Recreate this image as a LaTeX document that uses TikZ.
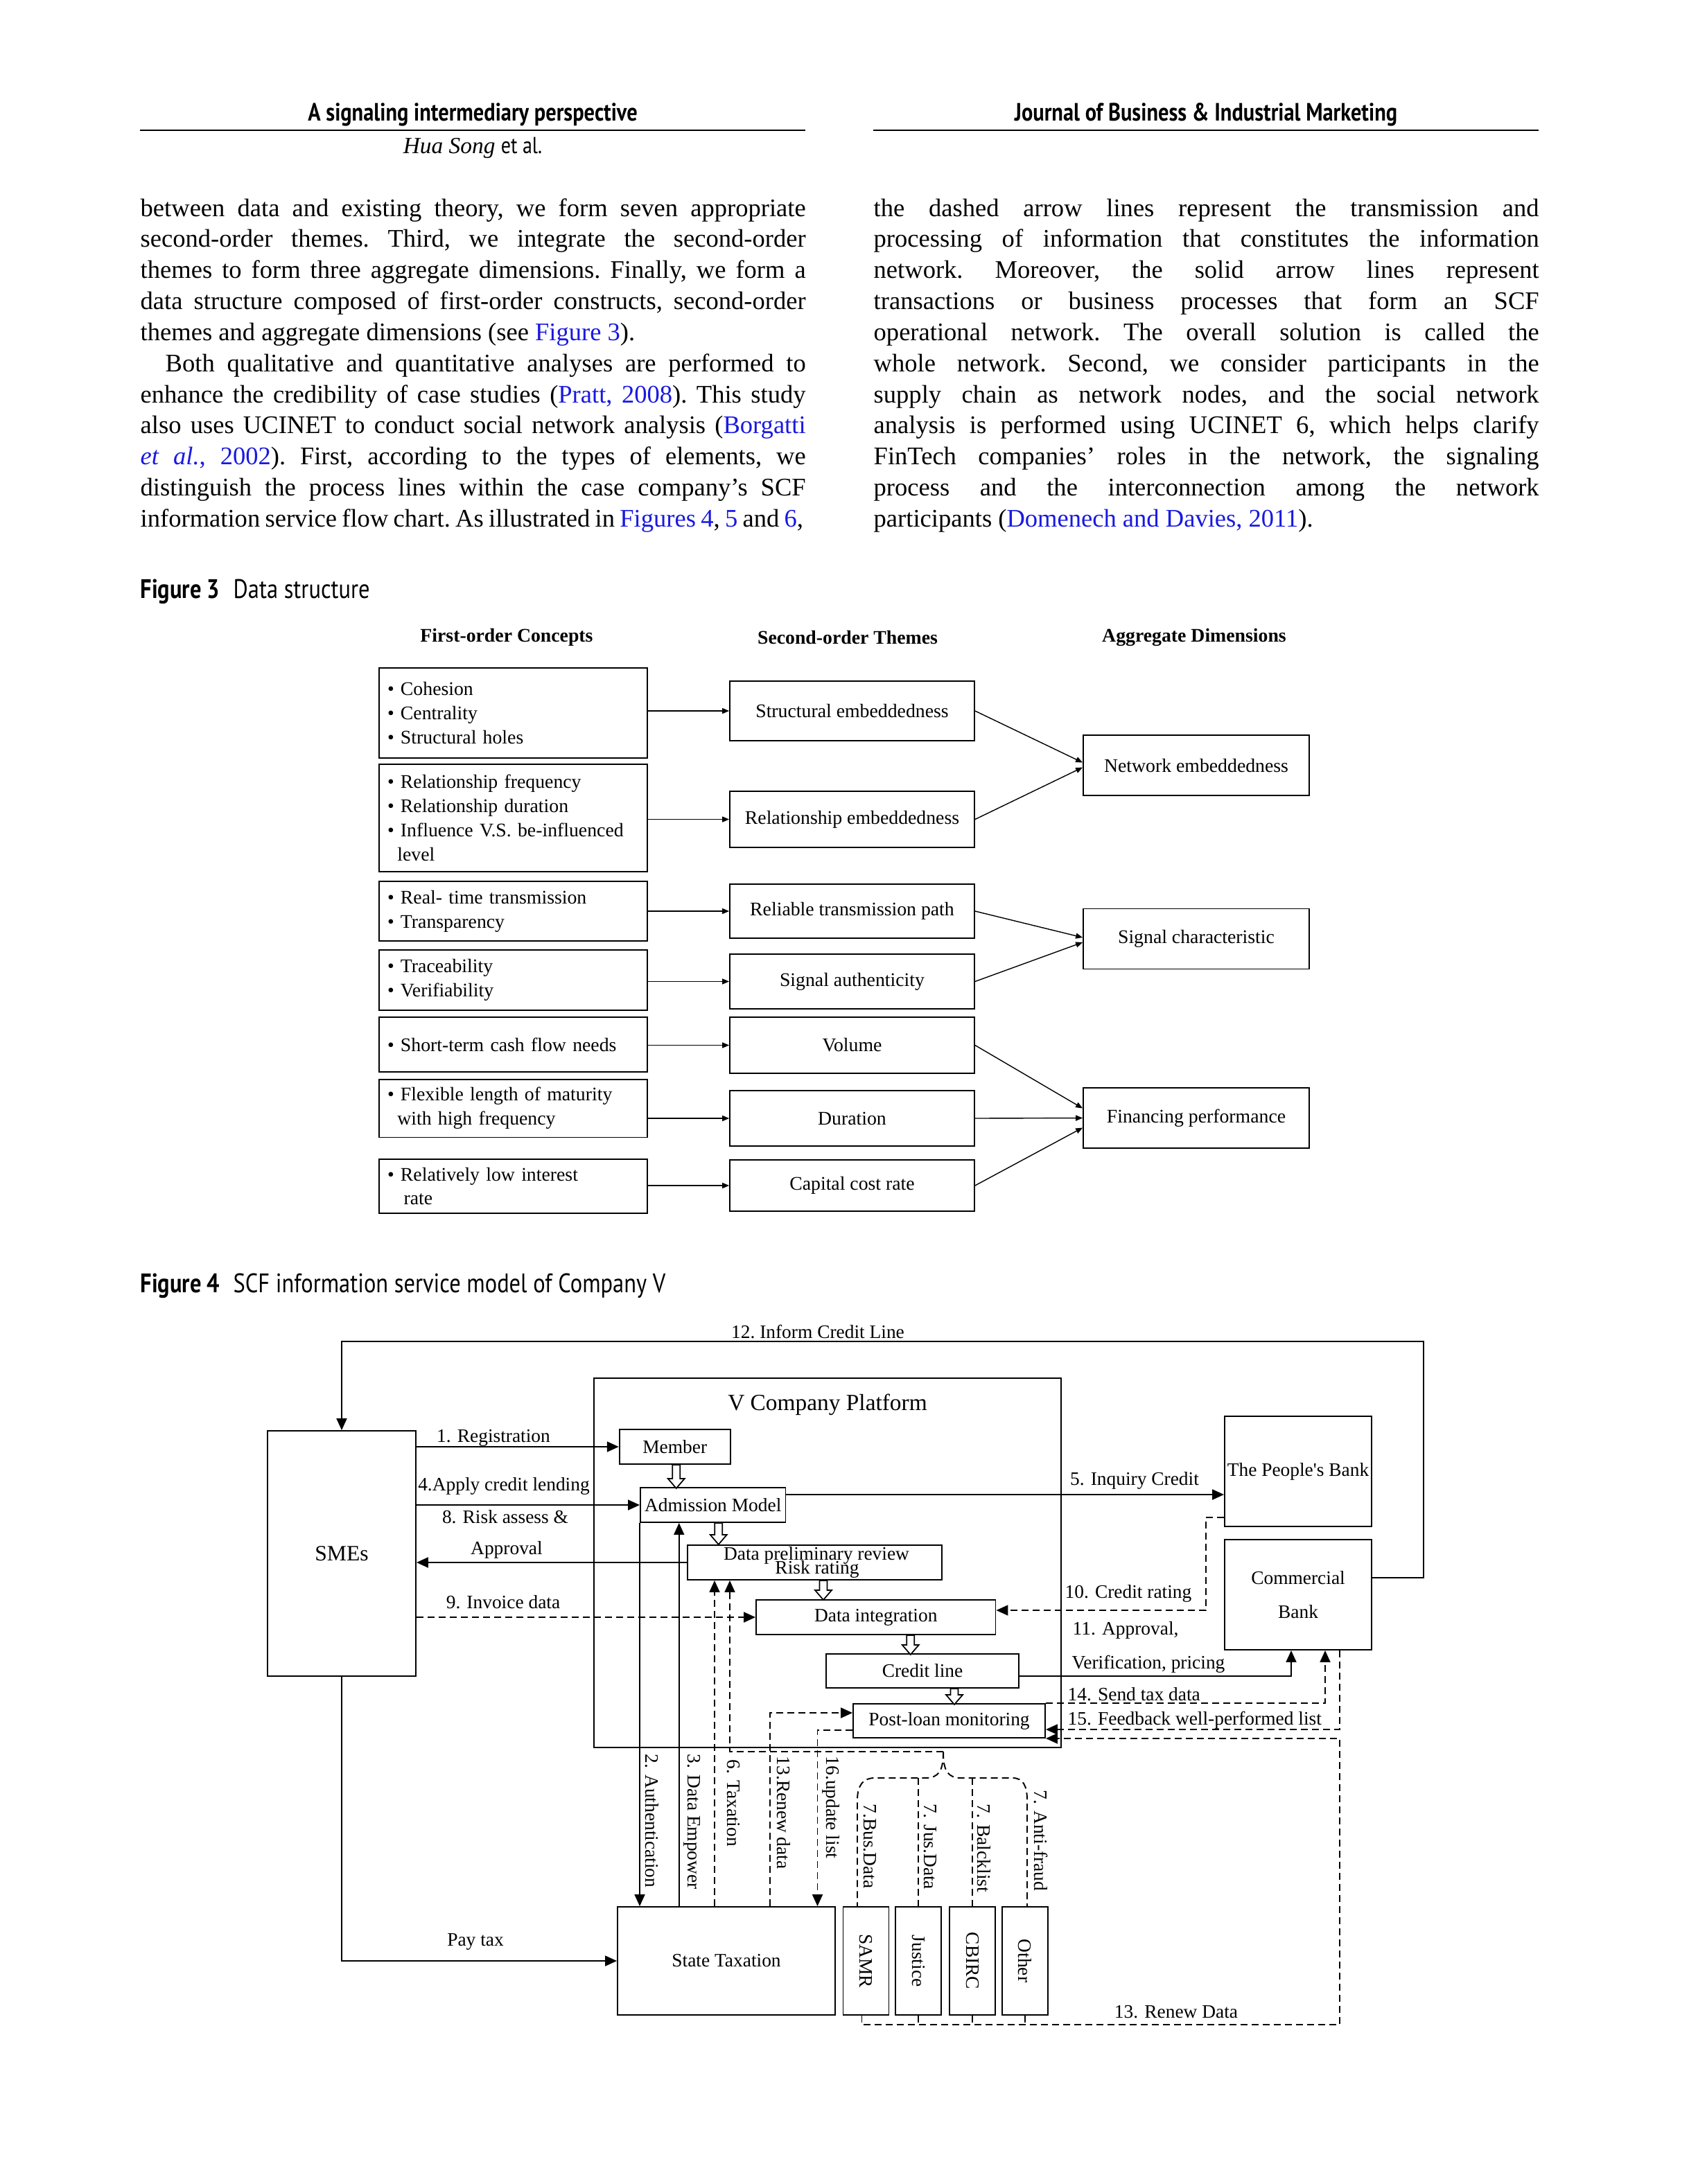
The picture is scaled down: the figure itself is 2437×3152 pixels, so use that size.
\documentclass[tikz,border=0pt]{standalone}
\usepackage{fontspec}
\setmainfont{Liberation Serif}
\newfontfamily\capfont[FakeStretch=0.84]{PT Sans}
\usepackage{tikz}
\usetikzlibrary{arrows.meta}
\usetikzlibrary{calc}
\definecolor{linkblue}{RGB}{25,25,225}

\tikzset{
  hdr/.style={anchor=base, inner sep=0pt, font=\capfont\bfseries\fontsize{10.3}{12}\selectfont},
  bodycol/.style={anchor=base west, text width=96mm, align=justify, inner sep=0pt, font=\fontsize{10.4}{12.76}\selectfont\frenchspacing},
  figcap/.style={anchor=base west, inner sep=0pt, font=\capfont\fontsize{11}{13}\selectfont},
  colhead/.style={font=\bfseries\fontsize{7.9}{9.5}\selectfont},
  fbox/.style={draw, line width=0.5pt, text width=36.3mm, inner xsep=1.2mm, align=left, font=\fontsize{7.9}{9.9}\selectfont},
  sbox/.style={draw, line width=0.5pt, minimum width=35.3mm, font=\fontsize{7.9}{9.5}\selectfont},
  abox/.style={draw, line width=0.5pt, minimum width=32.6mm, minimum height=8.7mm, font=\fontsize{7.9}{9.5}\selectfont},
  farr/.style={-{Triangle[length=1mm,width=0.8mm]}, line width=0.4pt},
  blk/.style={draw, line width=0.55pt, inner sep=0.5mm, font=\fontsize{7.8}{9.4}\selectfont},
  lbl/.style={inner sep=0.3mm, font=\fontsize{7.8}{9.4}\selectfont},
  vlbl/.style={lbl, rotate=-90, anchor=west},
  arr/.style={-{Triangle[length=1.7mm,width=1.5mm]}, line width=0.55pt},
  dline/.style={line width=0.55pt, dash pattern=on 1mm off 0.6mm},
  darr/.style={arr, dline},
  pics/hollowdown/.style={code={
    \draw[fill=white, line width=0.5pt] (-0.55mm,0mm) -- (-0.55mm,{1.4mm-#1}) -- (-1.2mm,{1.4mm-#1})
      -- (0mm,{-#1}) -- (1.2mm,{1.4mm-#1}) -- (0.55mm,{1.4mm-#1}) -- (0.55mm,0mm) -- cycle;
  }}
}
\newcommand{\itm}{\textbullet\ }

\begin{document}
\begin{tikzpicture}[x=0.1mm,y=-0.1mm]
\fill[white] (0,0) rectangle (2437,3152);
\useasboundingbox (0,0) rectangle (2437,3152);

% running heads
\node[hdr] (runL) at (682,174) {A signaling intermediary perspective};
\draw[line width=0.6pt] (202,188) -- (1162,188);
\node[anchor=base, inner sep=0pt, font=\fontsize{9.5}{11}\selectfont] (auth) at (682,221) {\textit{Hua Song} {\capfont et al.}};
\node[hdr] (runR) at (1740,174) {Journal of Business \& Industrial Marketing};
\draw[line width=0.6pt] (1260,188) -- (2220,188);

% two text columns
\node[bodycol] (colL) at (202,312) {between data and existing theory, we form seven appropriate\linebreak
second-order themes. Third, we integrate the second-order\linebreak
themes to form three aggregate dimensions. Finally, we form a\linebreak
data structure composed of first-order constructs, second-order\linebreak
themes and aggregate dimensions (see \textcolor{linkblue}{Figure 3}).\par
\parfillskip=0pt\hspace*{3.6mm}Both qualitative and quantitative analyses are performed to\linebreak
enhance the credibility of case studies (\textcolor{linkblue}{Pratt, 2008}). This study\linebreak
also uses UCINET to conduct social network analysis (\textcolor{linkblue}{Borgatti}\linebreak
\textcolor{linkblue}{\textit{et al.}, 2002}). First, according to the types of elements, we\linebreak
distinguish the process lines within the case company's SCF\linebreak
\spaceskip=0.2em plus 0.1em minus 0.08em information service flow chart. As illustrated in \textcolor{linkblue}{Figures 4}, \textcolor{linkblue}{5} and \textcolor{linkblue}{6},};

\node[bodycol] (colR) at (1260,312) {the dashed arrow lines represent the transmission and\linebreak
processing of information that constitutes the information\linebreak
network. Moreover, the solid arrow lines represent\linebreak
transactions or business processes that form an SCF\linebreak
operational network. The overall solution is called the\linebreak
whole network. Second, we consider participants in the\linebreak
supply chain as network nodes, and the social network\linebreak
analysis is performed using UCINET 6, which helps clarify\linebreak
FinTech companies' roles in the network, the signaling\linebreak
process and the interconnection among the network\linebreak
participants (\textcolor{linkblue}{Domenech and Davies, 2011}).};

% Figure 3
\node[figcap] (cap3) at (202,863) {\bfseries Figure 3\enspace\mdseries Data structure};
\node[colhead] (h1) at (731,920) {First-order Concepts};
\node[colhead] (h2) at (1223,920) {Second-order Themes};
\node[colhead] (h3) at (1723,920) {Aggregate Dimensions};

\node[fbox, minimum height=13mm] (f1) at (740.5,1029) {\itm Cohesion\\ \itm Centrality\\ \itm Structural holes};
\node[fbox, minimum height=15.5mm] (f2) at (740.5,1180.5) {\itm Relationship frequency\\ \itm Relationship duration\\ \itm Influence V.S. be-influenced\\ \phantom{\textbullet}\,level};
\node[fbox, minimum height=8.6mm] (f3) at (740.5,1315) {\itm Real- time transmission\\ \itm Transparency};
\node[fbox, minimum height=8.7mm] (f4) at (740.5,1414.5) {\itm Traceability\\ \itm Verifiability};
\node[fbox, minimum height=7.9mm] (f5) at (740.5,1507.5) {\itm Short-term cash flow needs};
\node[fbox, minimum height=7.9mm] (f6) at (740.5,1599.5) {\itm Flexible length of maturity\\ \phantom{\textbullet}\,with high frequency};
\node[fbox, minimum height=7.8mm] (f7) at (740.5,1712) {\itm Relatively low interest\\ \phantom{\textbullet}\,\ rate};

\node[sbox, minimum height=8.6mm] (s1) at (1229.5,1026) {Structural embeddedness};
\node[sbox, minimum height=8.1mm] (s2) at (1229.5,1182.5) {Relationship embeddedness};
\node[sbox, minimum height=7.8mm] (s3) at (1229.5,1315) {Reliable transmission path};
\node[sbox, minimum height=7.9mm] (s4) at (1229.5,1416.5) {Signal authenticity};
\node[sbox, minimum height=8.1mm] (s5) at (1229.5,1508.5) {Volume};
\node[sbox, minimum height=8mm] (s6) at (1229.5,1614) {Duration};
\node[sbox, minimum height=7.4mm] (s7) at (1229.5,1711) {Capital cost rate};

\node[abox] (a1) at (1726,1104.5) {Network embeddedness};
\node[abox] (a2) at (1726,1355) {Signal characteristic};
\node[abox] (a3) at (1726,1613.5) {Financing performance};

\foreach \i in {1,...,7}
  \draw[farr] (f\i.east |- s\i.west) -- (s\i.west);
\draw[farr] (s1.east) -- ([yshift=0.4mm]a1.west);
\draw[farr] (s2.east) -- ([yshift=-0.3mm]a1.west);
\draw[farr] (s3.east) -- ([yshift=0.2mm]a2.west);
\draw[farr] (s4.east) -- ([yshift=-0.5mm]a2.west);
\draw[farr] (s5.east) -- ([yshift=1.4mm]a3.west);
\draw[farr] (s6.east) -- (a3.west);
\draw[farr] (s7.east) -- ([yshift=-1.4mm]a3.west);

% Figure 4
\node[figcap] (cap4) at (202,1865) {\bfseries Figure 4\enspace\mdseries SCF information service model of Company V};

\node[blk, minimum width=21.4mm, minimum height=35.4mm, font=\fontsize{9}{11}\selectfont] (smes) at (493,2242) {SMEs};
\node[draw, line width=0.55pt, minimum width=67.4mm, minimum height=53.3mm] (plat) at (1194,2255.5) {};
\node[lbl, font=\fontsize{9.5}{11}\selectfont] (plattitle) at (1194,2027) {V Company Platform};
\node[blk, minimum width=16mm, minimum height=5mm] (member) at (973.75,2088) {Member};
\node[blk, minimum width=20.95mm, minimum height=5mm, inner sep=0pt] (adm) at (1028.75,2172) {Admission Model};
\node[blk, minimum width=36.7mm, minimum height=5mm] (prelim) at (1175.5,2255) {};
\node[lbl] (prelimA) at (1178,2245) {Data preliminary review};
\node[lbl] (prelimB) at (1179,2265) {Risk rating};
\node[blk, minimum width=34.55mm, minimum height=5mm] (integ) at (1263.75,2334) {Data integration};
\node[blk, minimum width=27.8mm, minimum height=4.9mm] (credit) at (1331,2411.5) {Credit line};
\node[blk, minimum width=27.7mm, minimum height=4.9mm] (post) at (1369.5,2483.5) {Post-loan monitoring};
\node[blk, minimum width=21.2mm, minimum height=15.9mm, inner sep=0pt] (pbank) at (1873,2123.5) {The People\textquotesingle s Bank};
\node[blk, minimum width=21.2mm, minimum height=15.9mm, align=center, font=\fontsize{7.8}{13.9}\selectfont] (cbank) at (1873,2301.5) {Commercial\\Bank};
\node[blk, minimum width=31.4mm, minimum height=15.6mm] (tax) at (1048,2830) {State Taxation};
\node[blk, minimum width=6.6mm, minimum height=15.6mm] (samr) at (1249.5,2830) {\rotatebox{-90}{SAMR}};
\node[blk, minimum width=6.6mm, minimum height=15.6mm] (justice) at (1325,2830) {\rotatebox{-90}{Justice}};
\node[blk, minimum width=6.6mm, minimum height=15.6mm] (cbirc) at (1403,2830) {\rotatebox{-90}{CBIRC}};
\node[blk, minimum width=6.6mm, minimum height=15.6mm] (other) at (1479,2830) {\rotatebox{-90}{Other}};

% platform flow
\pic at ([xshift=0.2mm]member.south) {hollowdown=3.4mm};
\pic at ([xshift=0.8mm]adm.south) {hollowdown=3.1mm};
\pic at ([xshift=1.25mm]prelim.south) {hollowdown=2.8mm};
\pic at ([xshift=5mm]integ.south) {hollowdown=2.8mm};
\pic at ([xshift=4.6mm]credit.south) {hollowdown=2.3mm};

% 12
\coordinate (tr) at (2054,1936);
\draw[arr] ([yshift=2.45mm]cbank.east) -| (tr) -| (smes.north);
\node[lbl] (l12) at (1180,1922) {12.\ Inform Credit Line};

% SMEs <-> platform
\draw[arr] (smes.east |- member.west) -- (member.west);
\node[lbl] (l1) at (712,2075) {1. Registration};
\draw[arr] (smes.east |- adm.west) -- (adm.west);
\node[lbl] (l4) at (727,2145) {4.Apply credit lending};
\draw[arr] (prelim.west) -- (prelim.west -| smes.east);
\node[lbl] (l8a) at (729,2189) {8. Risk assess \&};
\node[lbl] (l8b) at (731,2237) {Approval};
\draw[darr] (smes.east |- integ.west) -- (integ.west);
\node[lbl] (l9) at (726,2312) {9. Invoice data};

% banks
\coordinate (a5) at ([yshift=1.5mm]adm.east);
\draw[arr] (a5) -- (a5 -| pbank.west);
\node[lbl] (l5) at (1637,2137) {5. Inquiry Credit};
\coordinate (c10) at (1740,2324);
\draw[darr] ([yshift=-6.65mm]pbank.west) -| (c10) -- (c10 -| integ.east);
\node[lbl] (l10) at (1628,2300) {10. Credit rating};
\draw[arr] ([yshift=-0.75mm]credit.east) -| ([xshift=-1mm]cbank.south);
\node[lbl, anchor=west] (l11a) at (1544,2353) {11. Approval,};
\node[lbl] (l11b) at (1657,2402) {Verification, pricing};
\draw[darr] (post.north east) -| ([xshift=3.9mm]cbank.south);
\node[lbl, anchor=west] (l14) at (1537,2445) {14. Send tax data};
\draw[darr] ([xshift=6mm]cbank.south) |- ([yshift=-1.25mm]post.east);
\node[lbl, anchor=west] (l15) at (1537,2483) {15. Feedback well-performed list};

% 13 renew data
\coordinate (c13) at (1933,2922);
\draw[darr] ([xshift=-0.6mm]samr.south) |- (c13) |- (post.south east);
\foreach \b in {justice,cbirc,other}
  \draw[dline] (\b.south) -- (\b.south |- c13);
\node[lbl] (l13b) at (1697,2904) {13. Renew Data};

% state taxation lines
\draw[arr] (adm.south west) -- (adm.south west |- tax.north);
\coordinate (v3) at ([xshift=-4.9mm]adm.south);
\draw[arr] (v3 |- tax.north) -- (v3);
\coordinate (v6) at ([xshift=-14.45mm]prelim.south);
\draw[darr] (v6 |- tax.north) -- (v6);
\coordinate (br) at (1361,2528);
\coordinate (v7) at ([xshift=-12.25mm]prelim.south);
\draw[darr] (br) -| (v7);
\coordinate (v13) at (1111,2472);
\draw[darr] (v13 |- tax.north) -- (v13) -- (v13 -| post.west);
\coordinate (v16) at (1179.5,2497);
\draw[darr] (v16 -| post.west) -- (v16) -- (v16 |- tax.north);

% brace to the data sources
\coordinate (bh) at (1361,2566);
\coordinate (bl) at (1237,2598);
\coordinate (bk) at (1482,2598);
\draw[dline] (br) .. controls (1361,2555) and (1355,2566) .. (1335,2566) -- (1262,2566)
  .. controls (1245,2566) and (1237,2577) .. (bl) -- (bl |- samr.north);
\draw[dline] (br) .. controls (1361,2555) and (1367,2566) .. (1387,2566) -- (1461,2566)
  .. controls (1476,2566) and (1482,2577) .. (bk) -- (bk |- other.north);
\draw[dline] (justice.north |- bh) -- (justice.north);
\draw[dline] (cbirc.north |- bh) -- (cbirc.north);

\node[vlbl] (l2) at (941,2528) {2. Authentication};
\node[vlbl] (l3) at (998.6,2528) {3. Data Empower};
\node[vlbl] (l6) at (1058,2536) {6. Taxation};
\node[vlbl] (l13a) at (1130.6,2531) {13.Renew data};
\node[vlbl] (l16) at (1199.5,2531) {16.update list};
\node[vlbl] (l7a) at (1255,2600) {7.Bus.Data};
\node[vlbl] (l7b) at (1342,2600) {7. Jus.Data};
\node[vlbl] (l7c) at (1420,2600) {7. Balcklist};
\node[vlbl] (l7d) at (1502,2580) {7. Anti-fraud};

% pay tax
\draw[arr] (smes.south) |- (tax.west);
\node[lbl] (lpay) at (686,2802) {Pay tax};
\end{tikzpicture}
\end{document}
